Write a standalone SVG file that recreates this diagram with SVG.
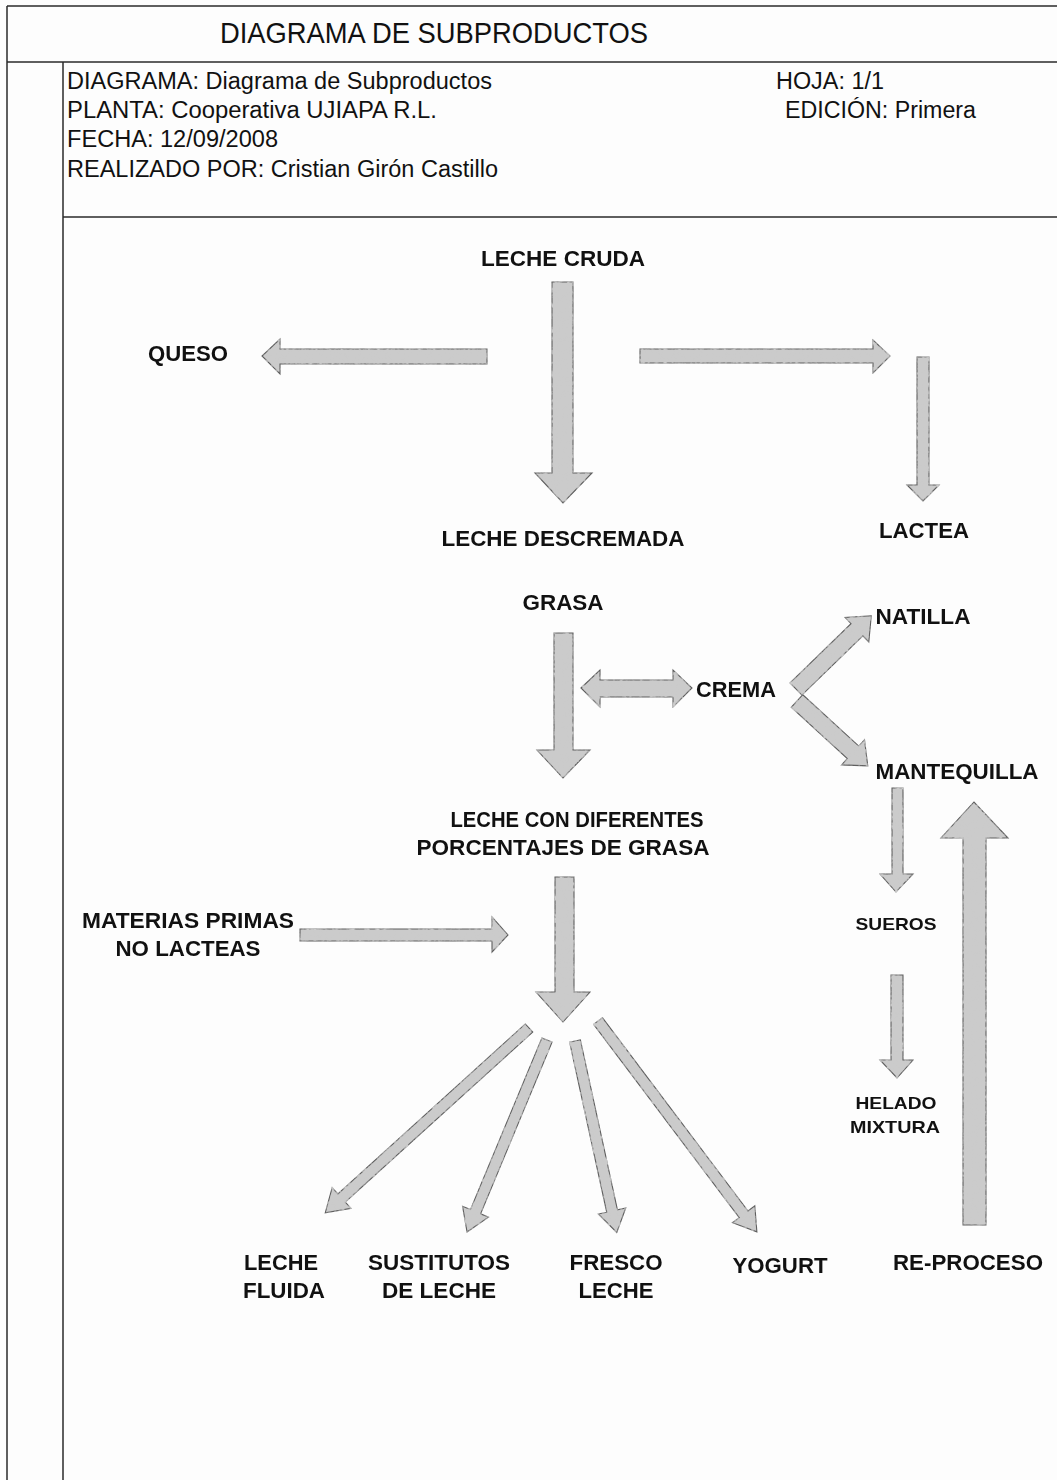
<svg xmlns="http://www.w3.org/2000/svg" width="1057" height="1480" viewBox="0 0 1057 1480">
  <style>
    .frame { stroke: #2a2a2a; stroke-width: 1.5; fill: none; }
    .title { font-family: "Liberation Sans", Arial, sans-serif; font-size: 29px; fill: #111; }
    .head { font-family: "Liberation Sans", Arial, sans-serif; font-size: 23px; fill: #111; }
    .lbl { font-family: "Liberation Sans", Arial, sans-serif; font-size: 22px; font-weight: bold; fill: #111; text-anchor: middle; }
    .sm { font-family: "Liberation Sans", Arial, sans-serif; font-size: 17px; font-weight: bold; fill: #111; text-anchor: middle; }
    .arrow { fill: #cbcbcb; stroke: #5e5e5e; stroke-width: 1.1; stroke-linejoin: miter; }
  </style>
  <defs>
    <!-- mottled grey fill used by the block arrows -->
    <filter id="grain" x="-5%" y="-5%" width="110%" height="110%">
      <feTurbulence type="fractalNoise" baseFrequency="0.22" numOctaves="2" seed="7" result="noise"/>
      <feColorMatrix in="noise" type="matrix" values="0 0 0 0 0.6  0 0 0 0 0.6  0 0 0 0 0.6  3 0 0 0 -1.3" result="spots"/>
      <feComposite in="spots" in2="SourceGraphic" operator="in" result="clip"/>
      <feMerge><feMergeNode in="SourceGraphic"/><feMergeNode in="clip"/></feMerge>
    </filter>
  </defs>

  <rect width="1057" height="1480" fill="#fdfdfd"/>

  <!-- sheet frame and title block -->
  <g id="frame" class="frame">
    <line x1="7" y1="6" x2="1057" y2="6"/>
    <line x1="7" y1="6" x2="7" y2="1480"/>
    <line x1="7" y1="62" x2="1057" y2="62"/>
    <line x1="63" y1="62" x2="63" y2="1480"/>
    <line x1="63" y1="217" x2="1057" y2="217"/>
  </g>

  <g id="header">
    <text class="title" x="220" y="43" textLength="428" lengthAdjust="spacingAndGlyphs">DIAGRAMA DE SUBPRODUCTOS</text>
    <text class="head" x="67" y="89" textLength="425" lengthAdjust="spacingAndGlyphs">DIAGRAMA: Diagrama de Subproductos</text>
    <text class="head" x="67" y="118" textLength="370" lengthAdjust="spacingAndGlyphs">PLANTA: Cooperativa UJIAPA R.L.</text>
    <text class="head" x="67" y="147" textLength="211" lengthAdjust="spacingAndGlyphs">FECHA: 12/09/2008</text>
    <text class="head" x="67" y="177" textLength="431" lengthAdjust="spacingAndGlyphs">REALIZADO POR: Cristian Girón Castillo</text>
    <text class="head" x="776" y="89" textLength="108" lengthAdjust="spacingAndGlyphs">HOJA: 1/1</text>
    <text class="head" x="785" y="118" textLength="191" lengthAdjust="spacingAndGlyphs">EDICIÓN: Primera</text>
  </g>

  <!-- block arrows -->
  <g id="connectors" class="arrow" filter="url(#grain)">
    <polygon id="a-cruda-descremada" points="552,282 573,282 573,473 592,473 563,503 535,473 552,473"/>
    <polygon id="a-queso" points="487,349 487,364 280,364 280,374 262,356 280,339 280,349"/>
    <polygon id="a-lactea-h" points="640,349 873,349 873,340 890,356 873,373 873,363 640,363"/>
    <polygon id="a-lactea-v" points="917,357 929,357 929,485 939,485 923,501 907,485 917,485"/>
    <polygon id="a-grasa" points="554,633 573,633 573,750 590,750 563,778 537,750 554,750"/>
    <polygon id="a-crema" points="581,688 600,670 600,680 673,680 673,670 692,688 673,707 673,697 600,697 600,707"/>
    <polygon id="a-natilla" transform="translate(796,689) rotate(-44.2)" points="0,-8.5 85,-8.5 85,-17 105,0 85,17 85,8.5 0,8.5"/>
    <polygon id="a-mantequilla" transform="translate(797,701) rotate(42.5)" points="0,-8.5 76,-8.5 76,-17 96,0 76,17 76,8.5 0,8.5"/>
    <polygon id="a-porcentajes" points="555,877 574,877 574,992 590,992 563,1022 536,992 555,992"/>
    <polygon id="a-materias" points="300,929 492,929 492,917 508,935 492,952 492,941 300,941"/>
    <polygon id="a-fluida" transform="translate(529,1028) rotate(137.8)" points="0,-5.5 253,-5.5 253,-14 275,0 253,14 253,5.5 0,5.5"/>
    <polygon id="a-sustitutos" transform="translate(547,1040) rotate(112.6)" points="0,-5.5 186,-5.5 186,-14 208,0 186,14 186,5.5 0,5.5"/>
    <polygon id="a-fresco" transform="translate(575,1041) rotate(77.7)" points="0,-5.5 174,-5.5 174,-14 196,0 174,14 174,5.5 0,5.5"/>
    <polygon id="a-yogurt" transform="translate(598,1021) rotate(53)" points="0,-5.5 242,-5.5 242,-14 264,0 242,14 242,5.5 0,5.5"/>
    <polygon id="a-sueros" points="892,788 903,788 903,874 913,874 896,892 880,874 892,874"/>
    <polygon id="a-helado" points="891,975 903,975 903,1060 913,1060 897,1078 880,1060 891,1060"/>
    <polygon id="a-reproceso" points="963,1225 986,1225 986,838 1008,838 974,802 941,838 963,838"/>
  </g>

  <!-- product nodes -->
  <g id="n-leche-cruda"><text class="lbl" x="563" y="266" textLength="164" lengthAdjust="spacingAndGlyphs">LECHE CRUDA</text></g>
  <g id="n-queso"><text class="lbl" x="188" y="361" textLength="80" lengthAdjust="spacingAndGlyphs">QUESO</text></g>
  <g id="n-leche-descremada"><text class="lbl" x="563" y="546" textLength="243" lengthAdjust="spacingAndGlyphs">LECHE DESCREMADA</text></g>
  <g id="n-lactea"><text class="lbl" x="924" y="538" textLength="90" lengthAdjust="spacingAndGlyphs">LACTEA</text></g>
  <g id="n-grasa"><text class="lbl" x="563" y="610" textLength="81" lengthAdjust="spacingAndGlyphs">GRASA</text></g>
  <g id="n-natilla"><text class="lbl" x="923" y="624" textLength="95" lengthAdjust="spacingAndGlyphs">NATILLA</text></g>
  <g id="n-crema"><text class="lbl" x="736" y="697" textLength="80" lengthAdjust="spacingAndGlyphs">CREMA</text></g>
  <g id="n-mantequilla"><text class="lbl" x="957" y="779" textLength="163" lengthAdjust="spacingAndGlyphs">MANTEQUILLA</text></g>
  <g id="n-porcentajes">
    <text class="lbl" x="577" y="827" textLength="253" lengthAdjust="spacingAndGlyphs">LECHE CON DIFERENTES</text>
    <text class="lbl" x="563" y="855" textLength="293" lengthAdjust="spacingAndGlyphs">PORCENTAJES DE GRASA</text>
  </g>
  <g id="n-materias">
    <text class="lbl" x="188" y="928" textLength="212" lengthAdjust="spacingAndGlyphs">MATERIAS PRIMAS</text>
    <text class="lbl" x="188" y="956" textLength="145" lengthAdjust="spacingAndGlyphs">NO LACTEAS</text>
  </g>
  <g id="n-sueros"><text class="sm" x="896" y="930" textLength="81" lengthAdjust="spacingAndGlyphs">SUEROS</text></g>
  <g id="n-helado">
    <text class="sm" x="896" y="1109" textLength="81" lengthAdjust="spacingAndGlyphs">HELADO</text>
    <text class="sm" x="895" y="1133" textLength="90" lengthAdjust="spacingAndGlyphs">MIXTURA</text>
  </g>
  <g id="n-fluida">
    <text class="lbl" x="281" y="1270" textLength="74" lengthAdjust="spacingAndGlyphs">LECHE</text>
    <text class="lbl" x="284" y="1298" textLength="82" lengthAdjust="spacingAndGlyphs">FLUIDA</text>
  </g>
  <g id="n-sustitutos">
    <text class="lbl" x="439" y="1270" textLength="142" lengthAdjust="spacingAndGlyphs">SUSTITUTOS</text>
    <text class="lbl" x="439" y="1298" textLength="114" lengthAdjust="spacingAndGlyphs">DE LECHE</text>
  </g>
  <g id="n-fresco">
    <text class="lbl" x="616" y="1270" textLength="93" lengthAdjust="spacingAndGlyphs">FRESCO</text>
    <text class="lbl" x="616" y="1298" textLength="75" lengthAdjust="spacingAndGlyphs">LECHE</text>
  </g>
  <g id="n-yogurt"><text class="lbl" x="780" y="1273" textLength="95" lengthAdjust="spacingAndGlyphs">YOGURT</text></g>
  <g id="n-reproceso"><text class="lbl" x="968" y="1270" textLength="150" lengthAdjust="spacingAndGlyphs">RE-PROCESO</text></g>
</svg>
